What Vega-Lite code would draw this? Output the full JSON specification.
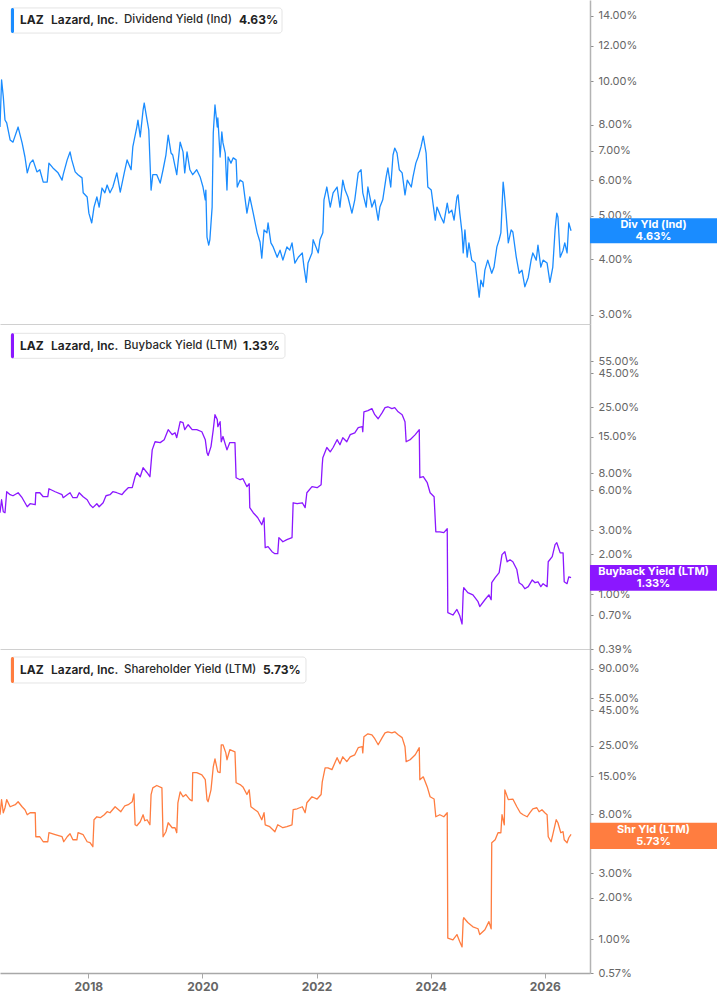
{
  "$schema": "https://vega.github.io/schema/vega-lite/v6.json",
  "padding": 0,
  "spacing": 0,
  "bounds": "flush",
  "config": {
    "view": {"stroke": null},
    "font": "Inter",
    "axisY": {"orient": "right", "grid": false, "domainColor": "#b3b3b3", "domainWidth": 1.5, "tickColor": "#8c8c8c", "tickSize": 3, "tickWidth": 1, "labelColor": "#666666", "labelFontSize": 11, "labelFont": "Inter", "labelPadding": 5, "labelOverlap": false},
    "axisX": {"grid": false}
  },
  "datasets": {
    "div": [
      {"t": 2016.4525, "v": 7.9}, {"t": 2016.48, "v": 10.07}, {"t": 2016.51, "v": 9.24}, {"t": 2016.54, "v": 8.19}, {"t": 2016.57, "v": 8.07},
      {"t": 2016.63, "v": 7.39}, {"t": 2016.68, "v": 7.31}, {"t": 2016.77, "v": 7.9}, {"t": 2016.84, "v": 7.28}, {"t": 2016.89, "v": 6.77},
      {"t": 2016.93, "v": 6.24}, {"t": 2016.98, "v": 6.56}, {"t": 2017.03, "v": 6.67}, {"t": 2017.1, "v": 6.27}, {"t": 2017.15, "v": 6.34},
      {"t": 2017.21, "v": 5.95}, {"t": 2017.28, "v": 5.95}, {"t": 2017.31, "v": 6.56}, {"t": 2017.38, "v": 6.4}, {"t": 2017.47, "v": 6.24},
      {"t": 2017.54, "v": 6.01}, {"t": 2017.56, "v": 6.18}, {"t": 2017.63, "v": 6.67}, {"t": 2017.68, "v": 6.95}, {"t": 2017.71, "v": 6.67},
      {"t": 2017.77, "v": 6.27}, {"t": 2017.82, "v": 6.18}, {"t": 2017.89, "v": 6.08}, {"t": 2017.91, "v": 5.63}, {"t": 2017.98, "v": 5.51},
      {"t": 2018.01, "v": 5.07}, {"t": 2018.06, "v": 4.82}, {"t": 2018.1, "v": 5.23}, {"t": 2018.15, "v": 5.51}, {"t": 2018.19, "v": 5.23},
      {"t": 2018.24, "v": 5.77}, {"t": 2018.29, "v": 5.63}, {"t": 2018.33, "v": 5.86}, {"t": 2018.38, "v": 5.63}, {"t": 2018.43, "v": 5.8},
      {"t": 2018.5, "v": 6.24}, {"t": 2018.56, "v": 5.65}, {"t": 2018.63, "v": 6.24}, {"t": 2018.68, "v": 6.67}, {"t": 2018.75, "v": 6.34},
      {"t": 2018.78, "v": 7.13}, {"t": 2018.85, "v": 7.9}, {"t": 2018.87, "v": 8.19}, {"t": 2018.91, "v": 7.51}, {"t": 2018.96, "v": 8.63},
      {"t": 2018.98, "v": 8.94}, {"t": 2019.03, "v": 8.19}, {"t": 2019.06, "v": 7.78}, {"t": 2019.1, "v": 5.71}, {"t": 2019.13, "v": 6.18},
      {"t": 2019.2, "v": 6.18}, {"t": 2019.26, "v": 5.92}, {"t": 2019.31, "v": 6.34}, {"t": 2019.36, "v": 6.84}, {"t": 2019.4, "v": 7.58},
      {"t": 2019.45, "v": 6.91}, {"t": 2019.48, "v": 6.84}, {"t": 2019.55, "v": 6.18}, {"t": 2019.61, "v": 7.31}, {"t": 2019.66, "v": 6.95},
      {"t": 2019.69, "v": 6.24}, {"t": 2019.73, "v": 6.95}, {"t": 2019.78, "v": 6.34}, {"t": 2019.83, "v": 6.18}, {"t": 2019.9, "v": 6.34},
      {"t": 2019.96, "v": 6.11}, {"t": 2020.01, "v": 5.8}, {"t": 2020.05, "v": 5.43}, {"t": 2020.06, "v": 5.71}, {"t": 2020.08, "v": 4.48},
      {"t": 2020.11, "v": 4.3}, {"t": 2020.13, "v": 4.42}, {"t": 2020.17, "v": 5.23}, {"t": 2020.19, "v": 7.66}, {"t": 2020.22, "v": 8.85},
      {"t": 2020.26, "v": 7.9}, {"t": 2020.27, "v": 8.28}, {"t": 2020.31, "v": 6.77}, {"t": 2020.34, "v": 7.7}, {"t": 2020.36, "v": 7.28},
      {"t": 2020.4, "v": 6.91}, {"t": 2020.43, "v": 5.71}, {"t": 2020.45, "v": 6.77}, {"t": 2020.5, "v": 6.56}, {"t": 2020.54, "v": 6.74},
      {"t": 2020.59, "v": 6.67}, {"t": 2020.61, "v": 5.8}, {"t": 2020.66, "v": 6.01}, {"t": 2020.71, "v": 5.95}, {"t": 2020.78, "v": 5.07},
      {"t": 2020.83, "v": 5.51}, {"t": 2020.89, "v": 5.07}, {"t": 2020.96, "v": 4.58}, {"t": 2021.01, "v": 4.37}, {"t": 2021.04, "v": 4.02},
      {"t": 2021.08, "v": 4.65}, {"t": 2021.13, "v": 4.58}, {"t": 2021.15, "v": 4.82}, {"t": 2021.2, "v": 4.35}, {"t": 2021.24, "v": 4.26},
      {"t": 2021.31, "v": 4.04}, {"t": 2021.36, "v": 4.19}, {"t": 2021.41, "v": 3.98}, {"t": 2021.48, "v": 4.26}, {"t": 2021.53, "v": 4.19},
      {"t": 2021.57, "v": 4.35}, {"t": 2021.62, "v": 3.92}, {"t": 2021.68, "v": 4.04}, {"t": 2021.75, "v": 4.13}, {"t": 2021.78, "v": 3.84},
      {"t": 2021.82, "v": 3.55}, {"t": 2021.85, "v": 3.92}, {"t": 2021.92, "v": 4.13}, {"t": 2021.94, "v": 4.42}, {"t": 2021.99, "v": 4.26},
      {"t": 2022.03, "v": 4.13}, {"t": 2022.06, "v": 4.42}, {"t": 2022.11, "v": 4.58}, {"t": 2022.13, "v": 5.43}, {"t": 2022.18, "v": 5.8},
      {"t": 2022.24, "v": 5.23}, {"t": 2022.29, "v": 5.63}, {"t": 2022.36, "v": 5.8}, {"t": 2022.41, "v": 5.23}, {"t": 2022.46, "v": 6.01},
      {"t": 2022.5, "v": 5.71}, {"t": 2022.55, "v": 5.51}, {"t": 2022.62, "v": 5.07}, {"t": 2022.67, "v": 5.43}, {"t": 2022.73, "v": 6.24},
      {"t": 2022.78, "v": 6.34}, {"t": 2022.81, "v": 5.63}, {"t": 2022.87, "v": 5.23}, {"t": 2022.9, "v": 5.8}, {"t": 2022.97, "v": 5.23},
      {"t": 2023.02, "v": 5.43}, {"t": 2023.08, "v": 4.89}, {"t": 2023.11, "v": 5.23}, {"t": 2023.16, "v": 5.43}, {"t": 2023.22, "v": 6.11},
      {"t": 2023.25, "v": 6.4}, {"t": 2023.3, "v": 5.8}, {"t": 2023.34, "v": 6.84}, {"t": 2023.37, "v": 7.09}, {"t": 2023.41, "v": 6.91},
      {"t": 2023.45, "v": 6.34}, {"t": 2023.5, "v": 6.24}, {"t": 2023.55, "v": 5.57}, {"t": 2023.59, "v": 6.01}, {"t": 2023.66, "v": 5.8},
      {"t": 2023.69, "v": 6.11}, {"t": 2023.74, "v": 6.56}, {"t": 2023.78, "v": 6.77}, {"t": 2023.83, "v": 7.13}, {"t": 2023.87, "v": 7.54},
      {"t": 2023.92, "v": 6.91}, {"t": 2023.95, "v": 5.8}, {"t": 2024.01, "v": 5.71}, {"t": 2024.04, "v": 5.34}, {"t": 2024.08, "v": 4.89},
      {"t": 2024.11, "v": 5.23}, {"t": 2024.18, "v": 4.97}, {"t": 2024.23, "v": 4.82}, {"t": 2024.29, "v": 5.34}, {"t": 2024.32, "v": 5.07},
      {"t": 2024.37, "v": 5.15}, {"t": 2024.41, "v": 4.89}, {"t": 2024.46, "v": 5.51}, {"t": 2024.48, "v": 5.57}, {"t": 2024.51, "v": 5.07},
      {"t": 2024.55, "v": 4.58}, {"t": 2024.57, "v": 4.13}, {"t": 2024.6, "v": 4.65}, {"t": 2024.64, "v": 4.04}, {"t": 2024.67, "v": 4.35},
      {"t": 2024.72, "v": 3.98}, {"t": 2024.78, "v": 3.92}, {"t": 2024.81, "v": 3.64}, {"t": 2024.85, "v": 3.29}, {"t": 2024.88, "v": 3.59},
      {"t": 2024.92, "v": 3.47}, {"t": 2024.95, "v": 3.78}, {"t": 2025.0, "v": 3.98}, {"t": 2025.07, "v": 3.72}, {"t": 2025.11, "v": 3.84},
      {"t": 2025.16, "v": 4.26}, {"t": 2025.2, "v": 4.42}, {"t": 2025.23, "v": 4.58}, {"t": 2025.27, "v": 5.95}, {"t": 2025.29, "v": 5.63},
      {"t": 2025.32, "v": 5.07}, {"t": 2025.36, "v": 4.35}, {"t": 2025.41, "v": 4.65}, {"t": 2025.44, "v": 4.6}, {"t": 2025.5, "v": 4.04},
      {"t": 2025.55, "v": 3.72}, {"t": 2025.6, "v": 3.78}, {"t": 2025.65, "v": 3.47}, {"t": 2025.71, "v": 3.64}, {"t": 2025.76, "v": 3.98},
      {"t": 2025.79, "v": 4.13}, {"t": 2025.85, "v": 3.98}, {"t": 2025.88, "v": 4.3}, {"t": 2025.93, "v": 3.84}, {"t": 2025.97, "v": 3.98},
      {"t": 2026.04, "v": 3.92}, {"t": 2026.09, "v": 3.55}, {"t": 2026.14, "v": 3.84}, {"t": 2026.18, "v": 4.65}, {"t": 2026.21, "v": 5.07},
      {"t": 2026.23, "v": 4.97}, {"t": 2026.27, "v": 4.04}, {"t": 2026.32, "v": 4.19}, {"t": 2026.35, "v": 4.35}, {"t": 2026.39, "v": 4.13},
      {"t": 2026.42, "v": 4.82}, {"t": 2026.46, "v": 4.63}
    ],
    "buy": [
      {"t": 2016.4525, "v": 4.07}, {"t": 2016.48, "v": 5.09}, {"t": 2016.51, "v": 4.14}, {"t": 2016.54, "v": 4.07}, {"t": 2016.57, "v": 5.84},
      {"t": 2016.63, "v": 5.55}, {"t": 2016.68, "v": 5.45}, {"t": 2016.77, "v": 5.74}, {"t": 2016.84, "v": 5.27}, {"t": 2016.89, "v": 4.83},
      {"t": 2016.93, "v": 4.51}, {"t": 2016.98, "v": 4.75}, {"t": 2017.07, "v": 4.67}, {"t": 2017.08, "v": 5.74}, {"t": 2017.15, "v": 5.74},
      {"t": 2017.21, "v": 5.36}, {"t": 2017.29, "v": 5.36}, {"t": 2017.31, "v": 6.15}, {"t": 2017.42, "v": 5.84}, {"t": 2017.54, "v": 5.55},
      {"t": 2017.56, "v": 5.27}, {"t": 2017.63, "v": 5.55}, {"t": 2017.68, "v": 5.74}, {"t": 2017.73, "v": 5.27}, {"t": 2017.8, "v": 5.27},
      {"t": 2017.84, "v": 5.74}, {"t": 2017.91, "v": 5.36}, {"t": 2017.98, "v": 5.09}, {"t": 2018.03, "v": 4.67}, {"t": 2018.08, "v": 4.44},
      {"t": 2018.15, "v": 4.75}, {"t": 2018.19, "v": 4.51}, {"t": 2018.26, "v": 4.83}, {"t": 2018.31, "v": 5.45}, {"t": 2018.38, "v": 5.55},
      {"t": 2018.43, "v": 5.84}, {"t": 2018.5, "v": 5.74}, {"t": 2018.59, "v": 5.55}, {"t": 2018.63, "v": 5.84}, {"t": 2018.7, "v": 6.26},
      {"t": 2018.77, "v": 6.26}, {"t": 2018.82, "v": 7.56}, {"t": 2018.85, "v": 8.1}, {"t": 2018.91, "v": 7.56}, {"t": 2018.96, "v": 8.83},
      {"t": 2019.03, "v": 8.1}, {"t": 2019.08, "v": 7.56}, {"t": 2019.12, "v": 12.0}, {"t": 2019.17, "v": 13.8}, {"t": 2019.26, "v": 13.6},
      {"t": 2019.33, "v": 14.3}, {"t": 2019.4, "v": 17.0}, {"t": 2019.47, "v": 15.6}, {"t": 2019.52, "v": 16.1}, {"t": 2019.55, "v": 14.8},
      {"t": 2019.61, "v": 19.5}, {"t": 2019.66, "v": 19.2}, {"t": 2019.69, "v": 17.0}, {"t": 2019.75, "v": 18.5}, {"t": 2019.82, "v": 17.0},
      {"t": 2019.9, "v": 17.0}, {"t": 2019.99, "v": 16.4}, {"t": 2020.05, "v": 14.3}, {"t": 2020.08, "v": 11.4}, {"t": 2020.1, "v": 10.9},
      {"t": 2020.15, "v": 12.7}, {"t": 2020.19, "v": 17.0}, {"t": 2020.22, "v": 22.0}, {"t": 2020.26, "v": 20.2}, {"t": 2020.27, "v": 17.9},
      {"t": 2020.31, "v": 19.5}, {"t": 2020.33, "v": 13.8}, {"t": 2020.36, "v": 15.1}, {"t": 2020.43, "v": 12.0}, {"t": 2020.48, "v": 13.6},
      {"t": 2020.57, "v": 13.6}, {"t": 2020.59, "v": 7.43}, {"t": 2020.66, "v": 7.18}, {"t": 2020.71, "v": 7.31}, {"t": 2020.78, "v": 6.37},
      {"t": 2020.82, "v": 6.71}, {"t": 2020.83, "v": 4.44}, {"t": 2020.89, "v": 4.07}, {"t": 2020.97, "v": 3.73}, {"t": 2021.04, "v": 3.31},
      {"t": 2021.08, "v": 3.73}, {"t": 2021.1, "v": 2.23}, {"t": 2021.15, "v": 2.27}, {"t": 2021.22, "v": 2.08}, {"t": 2021.27, "v": 2.01},
      {"t": 2021.32, "v": 2.01}, {"t": 2021.34, "v": 2.65}, {"t": 2021.41, "v": 2.47}, {"t": 2021.48, "v": 2.56}, {"t": 2021.57, "v": 2.65},
      {"t": 2021.59, "v": 4.83}, {"t": 2021.66, "v": 4.75}, {"t": 2021.75, "v": 4.83}, {"t": 2021.8, "v": 4.44}, {"t": 2021.83, "v": 5.74},
      {"t": 2021.92, "v": 6.37}, {"t": 2022.01, "v": 6.26}, {"t": 2022.08, "v": 6.59}, {"t": 2022.1, "v": 9.29}, {"t": 2022.11, "v": 10.5},
      {"t": 2022.18, "v": 12.5}, {"t": 2022.24, "v": 11.6}, {"t": 2022.29, "v": 12.5}, {"t": 2022.36, "v": 14.3}, {"t": 2022.41, "v": 13.1},
      {"t": 2022.46, "v": 14.8}, {"t": 2022.53, "v": 13.8}, {"t": 2022.59, "v": 15.6}, {"t": 2022.67, "v": 16.1}, {"t": 2022.73, "v": 17.6},
      {"t": 2022.8, "v": 17.9}, {"t": 2022.81, "v": 16.4}, {"t": 2022.83, "v": 23.1}, {"t": 2022.9, "v": 23.6}, {"t": 2022.97, "v": 24.4},
      {"t": 2023.02, "v": 22.0}, {"t": 2023.08, "v": 20.5}, {"t": 2023.15, "v": 22.8}, {"t": 2023.2, "v": 24.8}, {"t": 2023.25, "v": 25.2},
      {"t": 2023.32, "v": 24.4}, {"t": 2023.37, "v": 24.8}, {"t": 2023.43, "v": 23.1}, {"t": 2023.5, "v": 22.0}, {"t": 2023.55, "v": 19.5},
      {"t": 2023.57, "v": 13.8}, {"t": 2023.64, "v": 14.3}, {"t": 2023.73, "v": 15.6}, {"t": 2023.8, "v": 17.0}, {"t": 2023.81, "v": 7.43},
      {"t": 2023.87, "v": 7.56}, {"t": 2023.94, "v": 6.82}, {"t": 2023.99, "v": 5.74}, {"t": 2024.06, "v": 5.36}, {"t": 2024.09, "v": 2.93},
      {"t": 2024.16, "v": 2.93}, {"t": 2024.23, "v": 2.89}, {"t": 2024.29, "v": 3.09}, {"t": 2024.3, "v": 0.73}, {"t": 2024.39, "v": 0.7},
      {"t": 2024.46, "v": 0.77}, {"t": 2024.51, "v": 0.69}, {"t": 2024.55, "v": 0.6}, {"t": 2024.57, "v": 1.03}, {"t": 2024.58, "v": 1.12},
      {"t": 2024.65, "v": 1.03}, {"t": 2024.74, "v": 0.99}, {"t": 2024.83, "v": 0.88}, {"t": 2024.86, "v": 0.81}, {"t": 2024.95, "v": 0.91},
      {"t": 2025.02, "v": 0.99}, {"t": 2025.06, "v": 0.91}, {"t": 2025.07, "v": 1.22}, {"t": 2025.13, "v": 1.33}, {"t": 2025.2, "v": 1.45},
      {"t": 2025.25, "v": 1.98}, {"t": 2025.3, "v": 2.08}, {"t": 2025.34, "v": 1.75}, {"t": 2025.39, "v": 1.81}, {"t": 2025.44, "v": 1.75},
      {"t": 2025.51, "v": 1.53}, {"t": 2025.55, "v": 1.22}, {"t": 2025.6, "v": 1.18}, {"t": 2025.65, "v": 1.1}, {"t": 2025.71, "v": 1.14},
      {"t": 2025.78, "v": 1.28}, {"t": 2025.83, "v": 1.22}, {"t": 2025.88, "v": 1.24}, {"t": 2025.93, "v": 1.14}, {"t": 2025.97, "v": 1.2},
      {"t": 2026.04, "v": 1.14}, {"t": 2026.06, "v": 1.75}, {"t": 2026.13, "v": 1.91}, {"t": 2026.18, "v": 2.35}, {"t": 2026.21, "v": 2.43},
      {"t": 2026.27, "v": 2.04}, {"t": 2026.32, "v": 2.04}, {"t": 2026.34, "v": 1.24}, {"t": 2026.39, "v": 1.2}, {"t": 2026.42, "v": 1.35},
      {"t": 2026.46, "v": 1.33}
    ],
    "shr": [
      {"t": 2016.4525, "v": 7.93}, {"t": 2016.48, "v": 10.2}, {"t": 2016.51, "v": 8.2}, {"t": 2016.54, "v": 8.91}, {"t": 2016.57, "v": 10.2},
      {"t": 2016.63, "v": 9.06}, {"t": 2016.72, "v": 9.37}, {"t": 2016.77, "v": 9.85}, {"t": 2016.84, "v": 9.06}, {"t": 2016.89, "v": 8.62},
      {"t": 2016.93, "v": 7.93}, {"t": 2016.98, "v": 8.2}, {"t": 2017.07, "v": 8.2}, {"t": 2017.08, "v": 5.5}, {"t": 2017.15, "v": 5.5},
      {"t": 2017.21, "v": 5.06}, {"t": 2017.29, "v": 5.06}, {"t": 2017.31, "v": 5.88}, {"t": 2017.42, "v": 5.69}, {"t": 2017.54, "v": 5.5},
      {"t": 2017.57, "v": 5.06}, {"t": 2017.63, "v": 5.5}, {"t": 2017.68, "v": 5.78}, {"t": 2017.73, "v": 5.23}, {"t": 2017.8, "v": 5.23},
      {"t": 2017.82, "v": 5.88}, {"t": 2017.91, "v": 5.69}, {"t": 2017.98, "v": 5.06}, {"t": 2018.03, "v": 4.98}, {"t": 2018.08, "v": 4.66},
      {"t": 2018.1, "v": 7.3}, {"t": 2018.15, "v": 7.67}, {"t": 2018.21, "v": 7.55}, {"t": 2018.28, "v": 7.93}, {"t": 2018.33, "v": 8.34},
      {"t": 2018.38, "v": 8.2}, {"t": 2018.47, "v": 9.06}, {"t": 2018.57, "v": 8.34}, {"t": 2018.64, "v": 9.21}, {"t": 2018.7, "v": 9.37},
      {"t": 2018.77, "v": 9.85}, {"t": 2018.8, "v": 11.2}, {"t": 2018.82, "v": 6.71}, {"t": 2018.85, "v": 6.6}, {"t": 2018.91, "v": 7.06},
      {"t": 2018.96, "v": 7.93}, {"t": 2018.99, "v": 7.18}, {"t": 2019.03, "v": 7.3}, {"t": 2019.08, "v": 6.71}, {"t": 2019.1, "v": 11.1},
      {"t": 2019.13, "v": 12.4}, {"t": 2019.2, "v": 12.9}, {"t": 2019.29, "v": 12.4}, {"t": 2019.31, "v": 5.5}, {"t": 2019.36, "v": 5.98},
      {"t": 2019.4, "v": 6.94}, {"t": 2019.47, "v": 6.39}, {"t": 2019.52, "v": 6.39}, {"t": 2019.55, "v": 5.88}, {"t": 2019.57, "v": 9.68},
      {"t": 2019.61, "v": 11.6}, {"t": 2019.66, "v": 10.7}, {"t": 2019.71, "v": 11.1}, {"t": 2019.78, "v": 10.2}, {"t": 2019.82, "v": 10.0},
      {"t": 2019.83, "v": 16.0}, {"t": 2019.9, "v": 16.0}, {"t": 2019.99, "v": 15.4}, {"t": 2020.05, "v": 14.2}, {"t": 2020.08, "v": 10.2},
      {"t": 2020.1, "v": 9.85}, {"t": 2020.15, "v": 12.0}, {"t": 2020.19, "v": 17.6}, {"t": 2020.22, "v": 20.1}, {"t": 2020.26, "v": 16.8},
      {"t": 2020.27, "v": 16.2}, {"t": 2020.31, "v": 16.0}, {"t": 2020.33, "v": 25.4}, {"t": 2020.36, "v": 25.4}, {"t": 2020.41, "v": 22.2},
      {"t": 2020.43, "v": 19.8}, {"t": 2020.48, "v": 23.4}, {"t": 2020.57, "v": 22.6}, {"t": 2020.59, "v": 13.5}, {"t": 2020.66, "v": 13.1},
      {"t": 2020.71, "v": 12.6}, {"t": 2020.78, "v": 11.1}, {"t": 2020.82, "v": 12.0}, {"t": 2020.85, "v": 9.06}, {"t": 2020.92, "v": 8.62},
      {"t": 2020.97, "v": 8.34}, {"t": 2021.04, "v": 7.3}, {"t": 2021.08, "v": 8.2}, {"t": 2021.1, "v": 6.71}, {"t": 2021.18, "v": 6.5},
      {"t": 2021.27, "v": 5.98}, {"t": 2021.32, "v": 6.71}, {"t": 2021.41, "v": 6.39}, {"t": 2021.48, "v": 6.5}, {"t": 2021.57, "v": 6.71},
      {"t": 2021.59, "v": 8.62}, {"t": 2021.66, "v": 8.76}, {"t": 2021.75, "v": 9.06}, {"t": 2021.8, "v": 8.2}, {"t": 2021.83, "v": 9.68},
      {"t": 2021.92, "v": 10.7}, {"t": 2022.01, "v": 10.3}, {"t": 2022.08, "v": 11.1}, {"t": 2022.1, "v": 13.7}, {"t": 2022.15, "v": 17.3},
      {"t": 2022.2, "v": 17.3}, {"t": 2022.27, "v": 16.8}, {"t": 2022.36, "v": 20.5}, {"t": 2022.41, "v": 18.5}, {"t": 2022.46, "v": 20.8},
      {"t": 2022.53, "v": 19.2}, {"t": 2022.59, "v": 20.8}, {"t": 2022.67, "v": 21.5}, {"t": 2022.73, "v": 24.2}, {"t": 2022.8, "v": 24.6},
      {"t": 2022.81, "v": 22.2}, {"t": 2022.83, "v": 29.0}, {"t": 2022.9, "v": 30.5}, {"t": 2022.97, "v": 30.0}, {"t": 2023.02, "v": 28.1},
      {"t": 2023.08, "v": 25.4}, {"t": 2023.15, "v": 28.6}, {"t": 2023.2, "v": 31.0}, {"t": 2023.25, "v": 31.5}, {"t": 2023.32, "v": 31.0},
      {"t": 2023.37, "v": 31.5}, {"t": 2023.43, "v": 30.0}, {"t": 2023.5, "v": 28.6}, {"t": 2023.55, "v": 24.6}, {"t": 2023.57, "v": 19.2},
      {"t": 2023.64, "v": 19.8}, {"t": 2023.73, "v": 21.5}, {"t": 2023.8, "v": 24.2}, {"t": 2023.81, "v": 14.2}, {"t": 2023.87, "v": 14.9},
      {"t": 2023.94, "v": 12.6}, {"t": 2023.99, "v": 10.7}, {"t": 2024.06, "v": 10.3}, {"t": 2024.09, "v": 7.67}, {"t": 2024.16, "v": 7.93},
      {"t": 2024.23, "v": 7.67}, {"t": 2024.29, "v": 8.2}, {"t": 2024.3, "v": 1.02}, {"t": 2024.39, "v": 0.99}, {"t": 2024.46, "v": 1.08},
      {"t": 2024.51, "v": 0.96}, {"t": 2024.55, "v": 0.88}, {"t": 2024.57, "v": 1.38}, {"t": 2024.58, "v": 1.43}, {"t": 2024.65, "v": 1.32},
      {"t": 2024.74, "v": 1.23}, {"t": 2024.83, "v": 1.19}, {"t": 2024.86, "v": 1.08}, {"t": 2024.95, "v": 1.17}, {"t": 2025.02, "v": 1.34},
      {"t": 2025.06, "v": 1.19}, {"t": 2025.07, "v": 4.98}, {"t": 2025.13, "v": 5.23}, {"t": 2025.18, "v": 5.88}, {"t": 2025.23, "v": 5.88},
      {"t": 2025.25, "v": 7.93}, {"t": 2025.29, "v": 6.71}, {"t": 2025.3, "v": 12.0}, {"t": 2025.36, "v": 10.2}, {"t": 2025.44, "v": 10.3},
      {"t": 2025.51, "v": 9.06}, {"t": 2025.57, "v": 8.2}, {"t": 2025.62, "v": 7.93}, {"t": 2025.69, "v": 7.67}, {"t": 2025.74, "v": 8.2},
      {"t": 2025.79, "v": 8.76}, {"t": 2025.86, "v": 8.91}, {"t": 2025.9, "v": 8.34}, {"t": 2025.95, "v": 8.62}, {"t": 2026.0, "v": 8.2},
      {"t": 2026.04, "v": 7.93}, {"t": 2026.06, "v": 5.5}, {"t": 2026.11, "v": 5.06}, {"t": 2026.14, "v": 5.69}, {"t": 2026.2, "v": 7.3},
      {"t": 2026.23, "v": 6.94}, {"t": 2026.28, "v": 5.88}, {"t": 2026.32, "v": 5.98}, {"t": 2026.34, "v": 5.23}, {"t": 2026.39, "v": 4.98},
      {"t": 2026.42, "v": 5.41}, {"t": 2026.46, "v": 5.73}
    ]
  },
  "vconcat": [
    {
      "width": 590,
      "height": 324,
      "layer": [
        {
          "data": {"name": "div"},
          "mark": {"type": "line", "color": "#1a8cff", "strokeWidth": 1.3, "clip": true, "strokeJoin": "round"},
          "encoding": {
            "x": {"field": "t", "type": "quantitative", "title": null, "scale": {"domain": [2016.4525, 2026.792], "nice": false, "zero": false}, "axis": {"labels": false, "ticks": false, "domainColor": "#d0d0d0", "domainWidth": 1}},
            "y": {"field": "v", "type": "quantitative", "title": null, "scale": {"type": "log", "domain": [2.864, 15.2], "nice": false}, "axis": {"values": [3, 4, 5, 6, 7, 8, 10, 12, 14], "labelExpr": "format(datum.value, '.2f') + '%'"}}
          }
        },
        {
          "data": {"values": [{}]},
          "mark": {"type": "rect", "fill": "#ffffff", "stroke": "#e4e4e4", "strokeWidth": 1, "cornerRadius": 3},
          "encoding": {"x": {"datum": 2016.645, "title": null}, "x2": {"datum": 2021.395}, "y": {"datum": 14.59, "title": null}, "y2": {"datum": 12.82}}
        },
        {
          "data": {"values": [{}]},
          "mark": {"type": "rect", "fill": "#1a8cff", "cornerRadius": 1.5},
          "encoding": {"x": {"datum": 2016.645, "title": null}, "x2": {"datum": 2016.698}, "y": {"datum": 14.59, "title": null}, "y2": {"datum": 12.82}}
        },
        {
          "data": {"values": [{}]},
          "mark": {"type": "text", "text": "LAZ", "font": "Inter", "fontSize": 12, "fontWeight": "bold", "fill": "#222222", "align": "left", "baseline": "middle"},
          "encoding": {"x": {"datum": 2016.803, "title": null}, "y": {"datum": 13.68, "title": null}}
        },
        {
          "data": {"values": [{}]},
          "mark": {"type": "text", "text": "Lazard, Inc.", "font": "Inter", "fontSize": 12, "fontWeight": 600, "fill": "#222222", "align": "left", "baseline": "middle"},
          "encoding": {"x": {"datum": 2017.346, "title": null}, "y": {"datum": 13.68, "title": null}}
        },
        {
          "data": {"values": [{}]},
          "mark": {"type": "text", "text": "Dividend Yield (Ind)", "font": "Inter", "fontSize": 11.5, "fontWeight": 500, "fill": "#2a2a2a", "align": "left", "baseline": "middle"},
          "encoding": {"x": {"datum": 2018.626, "title": null}, "y": {"datum": 13.68, "title": null}}
        },
        {
          "data": {"values": [{}]},
          "mark": {"type": "text", "text": "4.63%", "font": "Inter", "fontSize": 12, "fontWeight": "bold", "fill": "#222222", "align": "left", "baseline": "middle"},
          "encoding": {"x": {"datum": 2020.641, "title": null}, "y": {"datum": 13.68, "title": null}}
        },
        {
          "data": {"values": [{}]},
          "mark": {"type": "rect", "fill": "#1a8cff"},
          "encoding": {"x": {"datum": 2026.792, "title": null}, "x2": {"datum": 2029.02}, "y": {"datum": 4.94, "title": null}, "y2": {"datum": 4.34}}
        },
        {
          "data": {"values": [{}]},
          "mark": {"type": "text", "text": ["Div Yld (Ind)", "4.63%"], "font": "Inter", "fontSize": 11, "fontWeight": "bold", "fill": "#ffffff", "align": "center", "baseline": "middle", "lineHeight": 12, "dy": -6},
          "encoding": {"x": {"datum": 2027.905, "title": null}, "y": {"datum": 4.63, "title": null}}
        }
      ]
    },
    {
      "width": 590,
      "height": 325,
      "layer": [
        {
          "data": {"name": "buy"},
          "mark": {"type": "line", "color": "#8b17ff", "strokeWidth": 1.3, "clip": true, "strokeJoin": "round"},
          "encoding": {
            "x": {"field": "t", "type": "quantitative", "title": null, "scale": {"domain": [2016.4525, 2026.792], "nice": false, "zero": false}, "axis": {"labels": false, "ticks": false, "domainColor": "#d0d0d0", "domainWidth": 1}},
            "y": {"field": "v", "type": "quantitative", "title": null, "scale": {"type": "log", "domain": [0.39, 104.7], "nice": false}, "axis": {"values": [0.39, 0.7, 1, 2, 3, 6, 8, 15, 25, 45, 55], "labelExpr": "format(datum.value, '.2f') + '%'"}}
          }
        },
        {
          "data": {"values": [{}]},
          "mark": {"type": "rect", "fill": "#ffffff", "stroke": "#e4e4e4", "strokeWidth": 1, "cornerRadius": 3},
          "encoding": {"x": {"datum": 2016.645, "title": null}, "x2": {"datum": 2021.447}, "y": {"datum": 89.2, "title": null}, "y2": {"datum": 58.0}}
        },
        {
          "data": {"values": [{}]},
          "mark": {"type": "rect", "fill": "#8b17ff", "cornerRadius": 1.5},
          "encoding": {"x": {"datum": 2016.645, "title": null}, "x2": {"datum": 2016.698}, "y": {"datum": 89.2, "title": null}, "y2": {"datum": 58.0}}
        },
        {
          "data": {"values": [{}]},
          "mark": {"type": "text", "text": "LAZ", "font": "Inter", "fontSize": 12, "fontWeight": "bold", "fill": "#222222", "align": "left", "baseline": "middle"},
          "encoding": {"x": {"datum": 2016.803, "title": null}, "y": {"datum": 71.9, "title": null}}
        },
        {
          "data": {"values": [{}]},
          "mark": {"type": "text", "text": "Lazard, Inc.", "font": "Inter", "fontSize": 12, "fontWeight": 600, "fill": "#222222", "align": "left", "baseline": "middle"},
          "encoding": {"x": {"datum": 2017.346, "title": null}, "y": {"datum": 71.9, "title": null}}
        },
        {
          "data": {"values": [{}]},
          "mark": {"type": "text", "text": "Buyback Yield (LTM)", "font": "Inter", "fontSize": 11.5, "fontWeight": 500, "fill": "#2a2a2a", "align": "left", "baseline": "middle"},
          "encoding": {"x": {"datum": 2018.626, "title": null}, "y": {"datum": 71.9, "title": null}}
        },
        {
          "data": {"values": [{}]},
          "mark": {"type": "text", "text": "1.33%", "font": "Inter", "fontSize": 12, "fontWeight": "bold", "fill": "#222222", "align": "left", "baseline": "middle"},
          "encoding": {"x": {"datum": 2020.711, "title": null}, "y": {"datum": 71.9, "title": null}}
        },
        {
          "data": {"values": [{}]},
          "mark": {"type": "rect", "fill": "#8b17ff"},
          "encoding": {"x": {"datum": 2026.792, "title": null}, "x2": {"datum": 2029.02}, "y": {"datum": 1.655, "title": null}, "y2": {"datum": 1.063}}
        },
        {
          "data": {"values": [{}]},
          "mark": {"type": "text", "text": ["Buyback Yield (LTM)", "1.33%"], "font": "Inter", "fontSize": 11, "fontWeight": "bold", "fill": "#ffffff", "align": "center", "baseline": "middle", "lineHeight": 12, "dy": -6},
          "encoding": {"x": {"datum": 2027.905, "title": null}, "y": {"datum": 1.326, "title": null}}
        }
      ]
    },
    {
      "width": 590,
      "height": 324,
      "layer": [
        {
          "data": {"name": "shr"},
          "mark": {"type": "line", "color": "#ff7d40", "strokeWidth": 1.3, "clip": true, "strokeJoin": "round"},
          "encoding": {
            "x": {"field": "t", "type": "quantitative", "title": null, "scale": {"domain": [2016.4525, 2026.792], "nice": false, "zero": false}, "axis": {"values": [2018, 2020, 2022, 2024, 2026], "format": "d", "labelFont": "Inter", "labelFontSize": 12, "labelFontWeight": "bold", "labelColor": "#666666", "tickColor": "#a8a8a8", "tickSize": 5, "labelPadding": 3, "domainColor": "#a8a8a8", "domainWidth": 1.5}},
            "y": {"field": "v", "type": "quantitative", "title": null, "scale": {"type": "log", "domain": [0.57, 125.0], "nice": false}, "axis": {"values": [0.57, 1, 2, 3, 6, 8, 15, 25, 45, 55, 90], "labelExpr": "format(datum.value, '.2f') + '%'"}}
          }
        },
        {
          "data": {"values": [{}]},
          "mark": {"type": "rect", "fill": "#ffffff", "stroke": "#e4e4e4", "strokeWidth": 1, "cornerRadius": 3},
          "encoding": {"x": {"datum": 2016.645, "title": null}, "x2": {"datum": 2021.815}, "y": {"datum": 109.4, "title": null}, "y2": {"datum": 71.0}}
        },
        {
          "data": {"values": [{}]},
          "mark": {"type": "rect", "fill": "#ff7d40", "cornerRadius": 1.5},
          "encoding": {"x": {"datum": 2016.645, "title": null}, "x2": {"datum": 2016.698}, "y": {"datum": 109.4, "title": null}, "y2": {"datum": 71.0}}
        },
        {
          "data": {"values": [{}]},
          "mark": {"type": "text", "text": "LAZ", "font": "Inter", "fontSize": 12, "fontWeight": "bold", "fill": "#222222", "align": "left", "baseline": "middle"},
          "encoding": {"x": {"datum": 2016.803, "title": null}, "y": {"datum": 88.2, "title": null}}
        },
        {
          "data": {"values": [{}]},
          "mark": {"type": "text", "text": "Lazard, Inc.", "font": "Inter", "fontSize": 12, "fontWeight": 600, "fill": "#222222", "align": "left", "baseline": "middle"},
          "encoding": {"x": {"datum": 2017.346, "title": null}, "y": {"datum": 88.2, "title": null}}
        },
        {
          "data": {"values": [{}]},
          "mark": {"type": "text", "text": "Shareholder Yield (LTM)", "font": "Inter", "fontSize": 11.5, "fontWeight": 500, "fill": "#2a2a2a", "align": "left", "baseline": "middle"},
          "encoding": {"x": {"datum": 2018.626, "title": null}, "y": {"datum": 88.2, "title": null}}
        },
        {
          "data": {"values": [{}]},
          "mark": {"type": "text", "text": "5.73%", "font": "Inter", "fontSize": 12, "fontWeight": "bold", "fill": "#222222", "align": "left", "baseline": "middle"},
          "encoding": {"x": {"datum": 2021.061, "title": null}, "y": {"datum": 88.2, "title": null}}
        },
        {
          "data": {"values": [{}]},
          "mark": {"type": "rect", "fill": "#ff7d40"},
          "encoding": {"x": {"datum": 2026.792, "title": null}, "x2": {"datum": 2029.02}, "y": {"datum": 6.95, "title": null}, "y2": {"datum": 4.49}}
        },
        {
          "data": {"values": [{}]},
          "mark": {"type": "text", "text": ["Shr Yld (LTM)", "5.73%"], "font": "Inter", "fontSize": 11, "fontWeight": "bold", "fill": "#ffffff", "align": "center", "baseline": "middle", "lineHeight": 12, "dy": -6},
          "encoding": {"x": {"datum": 2027.905, "title": null}, "y": {"datum": 5.58, "title": null}}
        }
      ]
    }
  ]
}
